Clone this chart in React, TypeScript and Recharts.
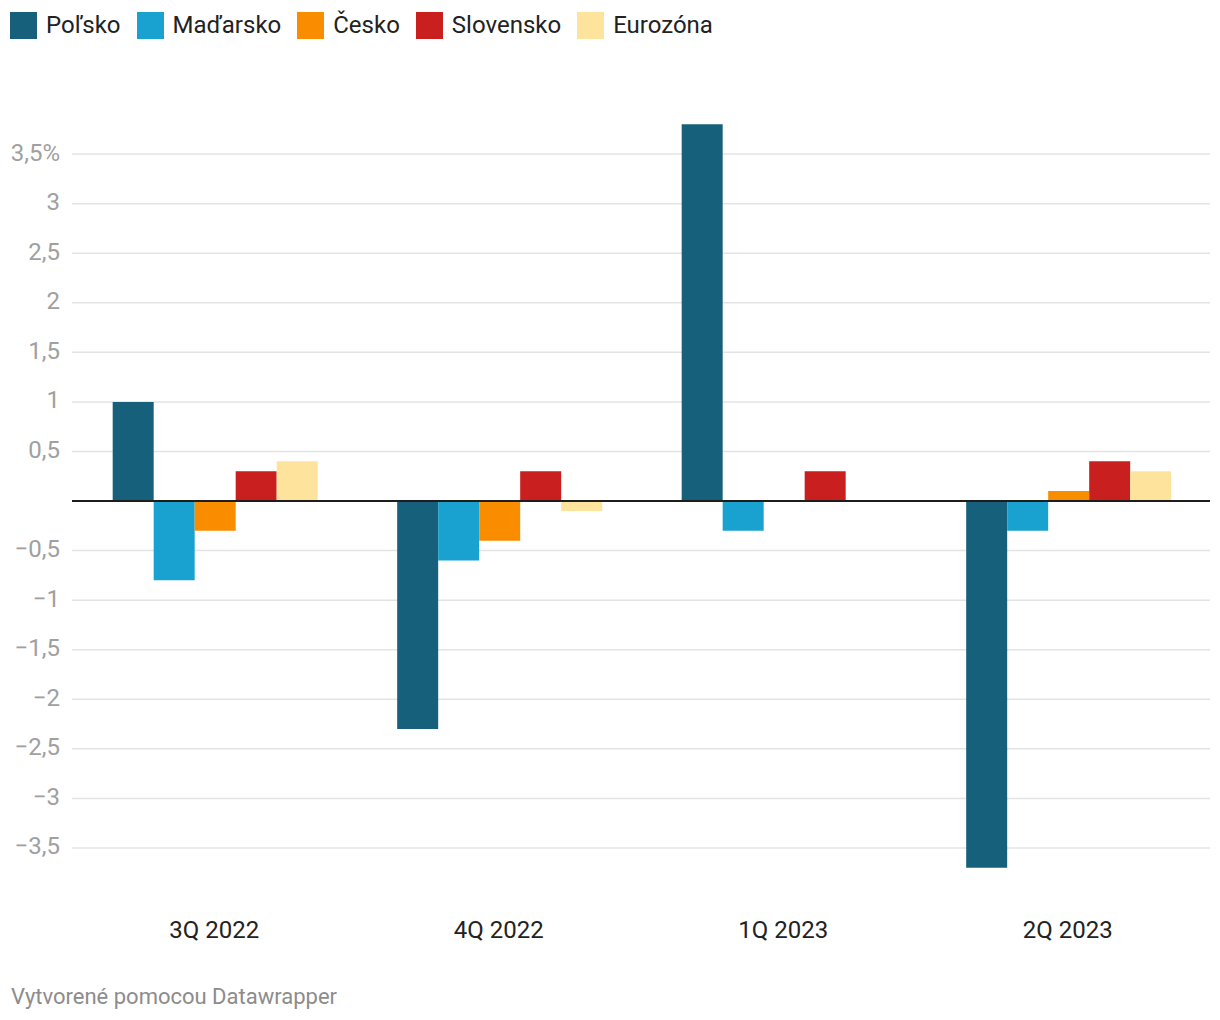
import React from "react";
import { BarChart, Bar, XAxis, YAxis, CartesianGrid, ReferenceLine } from "recharts";

const quarters = ["3Q 2022", "4Q 2022", "1Q 2023", "2Q 2023"];
const polsko = [1.0, -2.3, 3.8, -3.7];
const madarsko = [-0.8, -0.6, -0.3, -0.3];
const cesko = [-0.3, -0.4, 0, 0.1];
const slovensko = [0.3, 0.3, 0.3, 0.4];
const eurozona = [0.4, -0.1, 0, 0.3];

const yTicks = [-3.5, -3, -2.5, -2, -1.5, -1, -0.5, 0.5, 1, 1.5, 2, 2.5, 3, 3.5];

const SERIES = [
  { key: "polsko", name: "Poľsko", color: "#17607b" },
  { key: "madarsko", name: "Maďarsko", color: "#19a2cf" },
  { key: "cesko", name: "Česko", color: "#fa8c00" },
  { key: "slovensko", name: "Slovensko", color: "#c91f1f" },
  { key: "eurozona", name: "Eurozóna", color: "#fee39d" },
];

const data = quarters.map((q, i) => ({
  quarter: q,
  polsko: polsko[i],
  madarsko: madarsko[i],
  cesko: cesko[i],
  slovensko: slovensko[i],
  eurozona: eurozona[i],
}));

const FONT = "Roboto, 'Noto Sans', sans-serif";

const formatY = (v: number) => {
  let s = Math.abs(v).toString().replace(".", ",");
  if (v < 0) s = "\u2212" + s;
  if (v === 3.5) s += "%";
  return s;
};

export default function App() {
  return (
    <div style={{ position: "absolute", left: 0, top: 0, width: 1220, height: 1020, background: "#fff", fontFamily: FONT }}>
      {/* legend */}
      <div style={{ position: "absolute", left: 10, top: 12, display: "flex", alignItems: "center" }}>
        {SERIES.map((s) => (
          <div key={s.key} style={{ display: "flex", alignItems: "center", marginRight: 16 }}>
            <div style={{ width: 27, height: 27, background: s.color, marginRight: 9 }} />
            <span style={{ fontSize: 24, color: "#222", lineHeight: "27px" }}>{s.name}</span>
          </div>
        ))}
      </div>

      <div style={{ position: "absolute", left: 0, top: 0 }}>
        <BarChart
          width={1220}
          height={961.5}
          data={data}
          margin={{ top: 104.5, right: 10, left: 0, bottom: 24 }}
          barCategoryGap="14.3%"
          barGap={0}
        >
          <CartesianGrid vertical={false} horizontalValues={yTicks} stroke="#e3e3e3" strokeWidth={1.5} />
          <XAxis
            dataKey="quarter"
            axisLine={false}
            tickLine={false}
            height={40}
            tickMargin={17}
            tick={{ fill: "#222", fontSize: 24, fontFamily: FONT }}
          />
          <YAxis
            domain={[-4, 4]}
            ticks={yTicks}
            interval={0}
            width={72}
            axisLine={false}
            tickLine={false}
            tickSize={0}
            tickMargin={12}
            tickFormatter={formatY}
            tick={{ fill: "#a0a0a0", fontSize: 24, fontFamily: FONT, dy: -2 }}
          />
          {SERIES.map((s) => (
            <Bar key={s.key} dataKey={s.key} name={s.name} fill={s.color} isAnimationActive={false} />
          ))}
          <ReferenceLine y={0} stroke="#1d1d1d" strokeWidth={2} />
        </BarChart>
      </div>

      <div style={{ position: "absolute", left: 11, top: 984, fontSize: 22, color: "#8c8c8c" }}>
        Vytvorené pomocou Datawrapper
      </div>
    </div>
  );
}
